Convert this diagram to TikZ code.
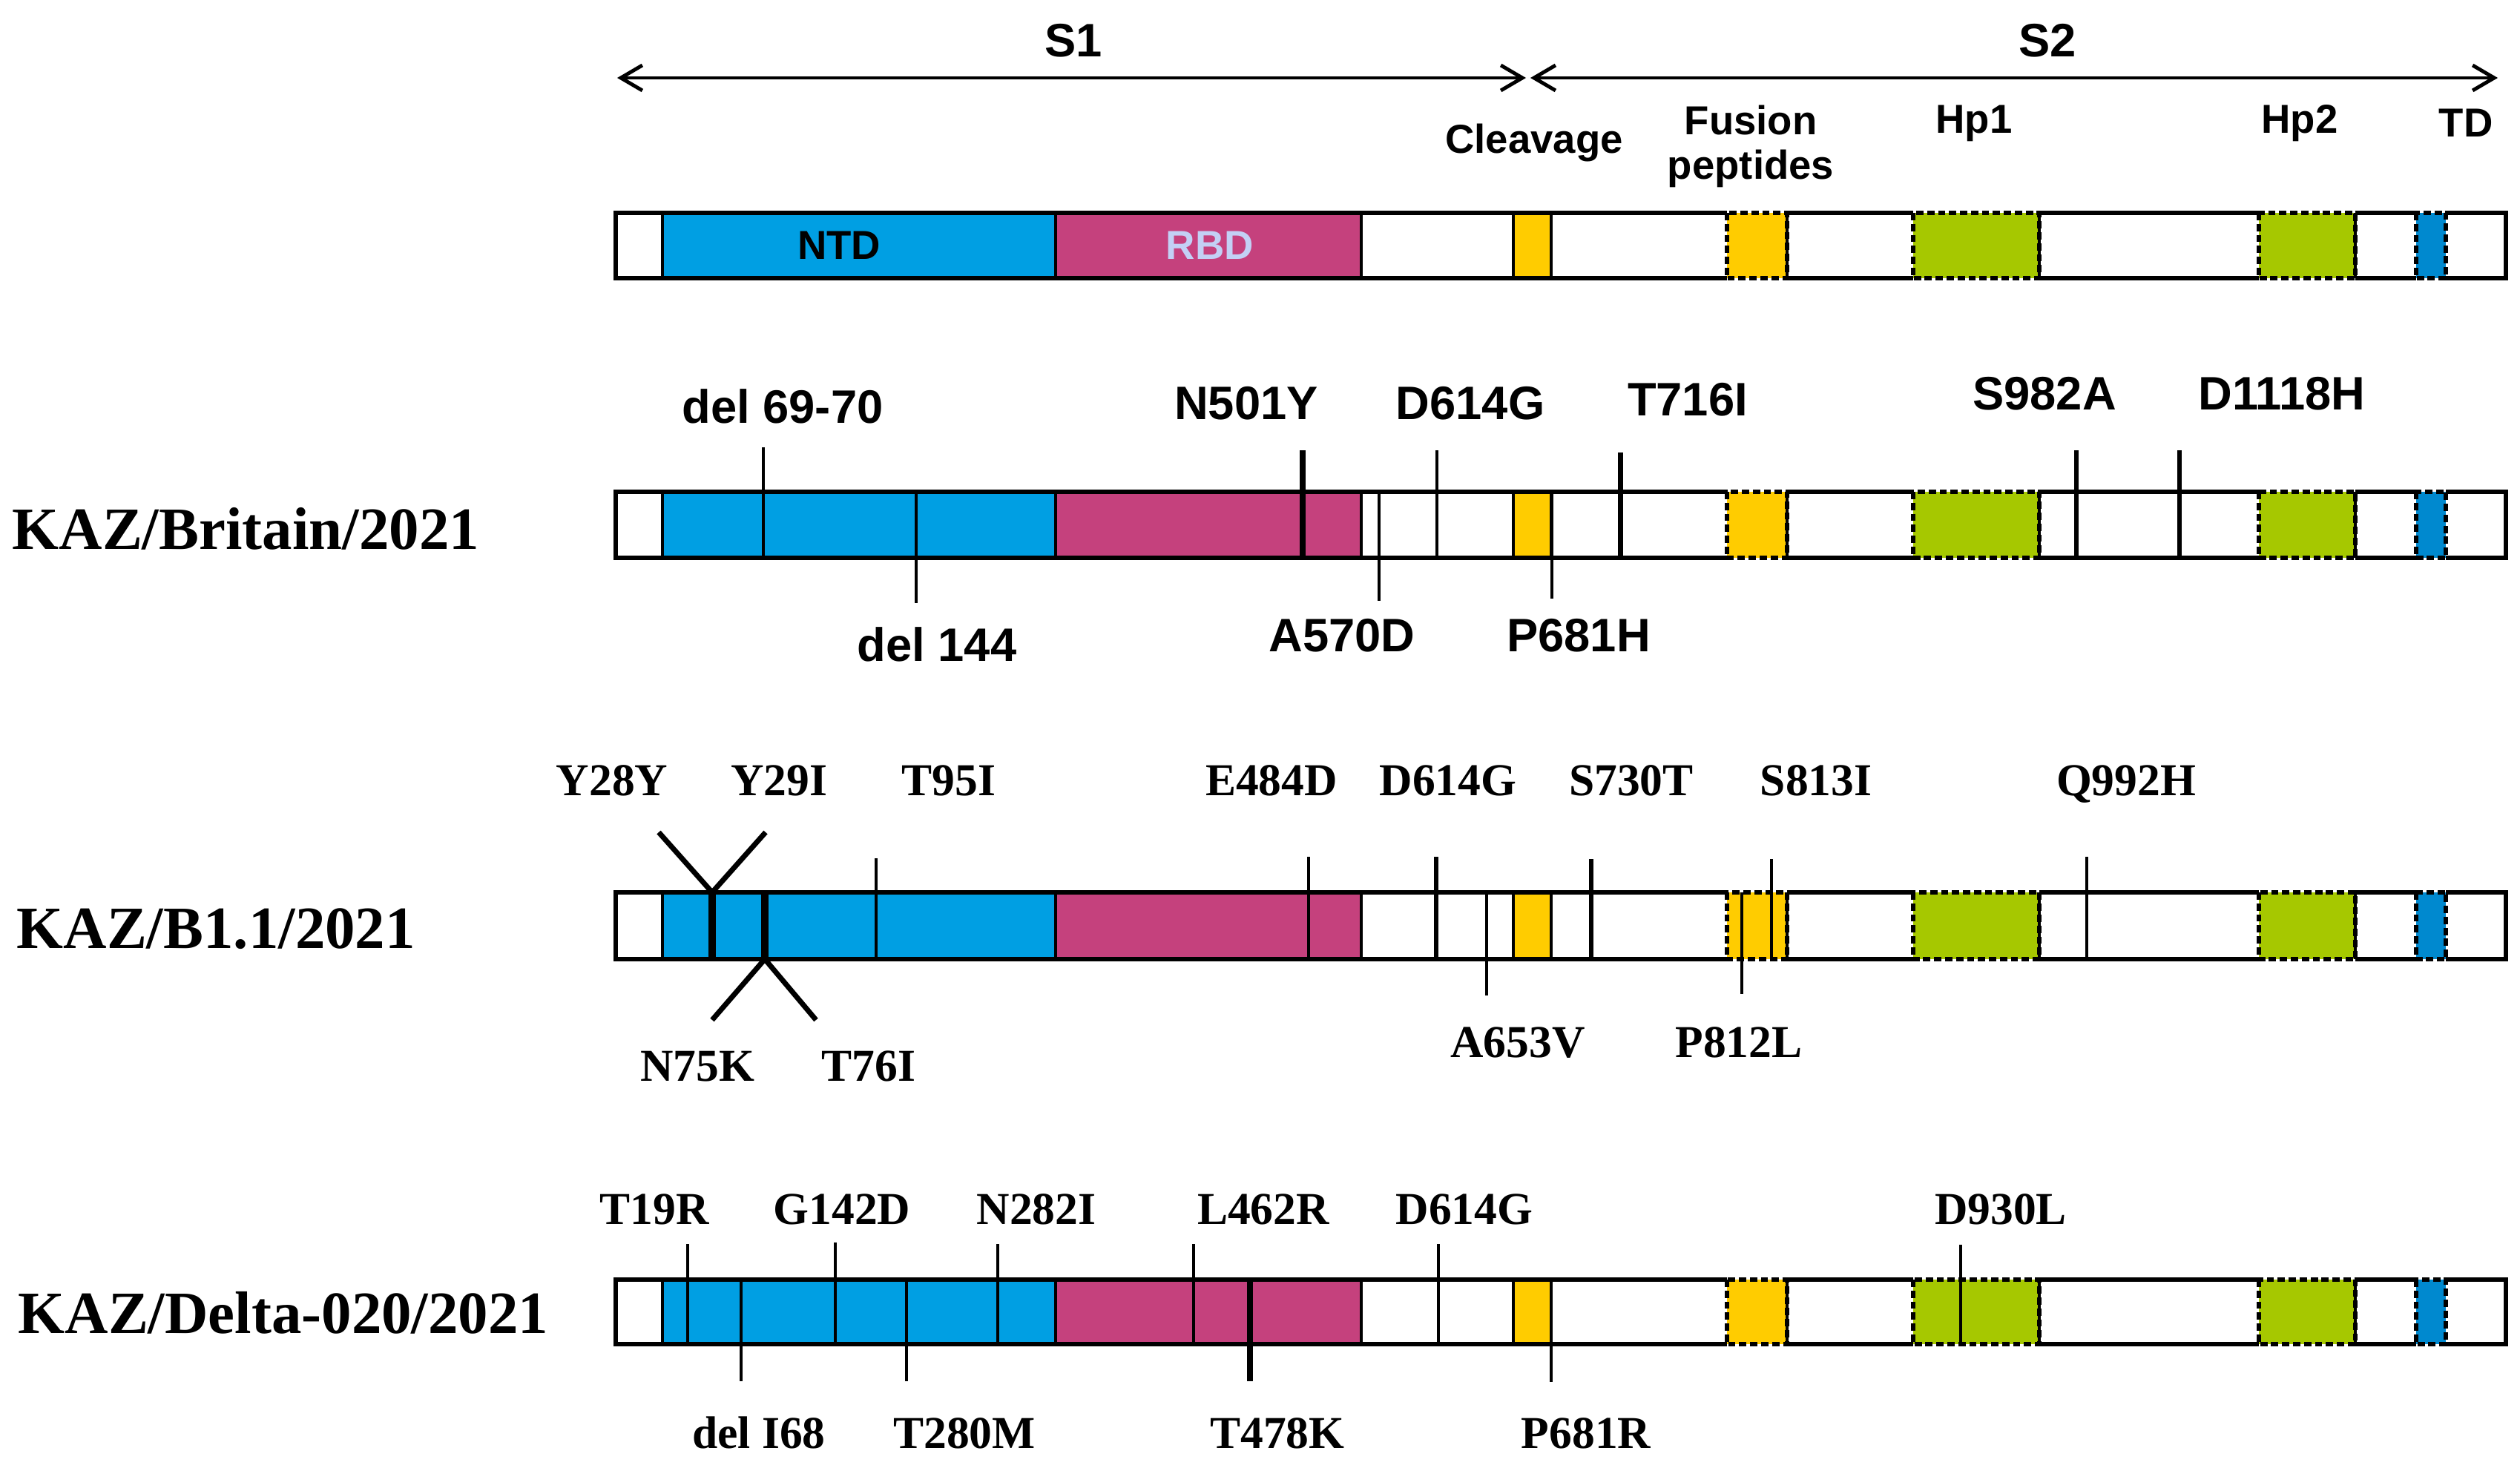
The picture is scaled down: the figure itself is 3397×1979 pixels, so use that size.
\documentclass[tikz,border=0pt]{standalone}
\usepackage{fontspec}
\setmainfont{Liberation Serif}
\newfontfamily\arialfont{Liberation Sans}
\usetikzlibrary{arrows.meta}

\definecolor{ntdblue}{RGB}{0,159,227}
\definecolor{rbdpink}{RGB}{197,65,125}
\definecolor{cleavyellow}{RGB}{255,204,0}
\definecolor{hpgreen}{RGB}{166,200,0}
\definecolor{tdblue}{RGB}{0,137,207}
\definecolor{rbdtext}{RGB}{195,208,245}

\begin{document}
\begin{tikzpicture}[x=0.01cm, y=-0.01cm,
    barline/.style={line width=1.8pt},
    divline/.style={line width=1.3pt},
    dashbox/.style={line width=1.5pt, dash pattern=on 2.8pt off 1.4pt},
    scalearr/.style={line width=1.4pt, >={Straight Barb[length=2.9mm,width=3.4mm]}, <->},
    sanslab/.style={font=\arialfont\bfseries\fontsize{18}{20}\selectfont, anchor=base, inner sep=0pt},
    domlab/.style={font=\arialfont\bfseries\fontsize{15.5}{17}\selectfont, anchor=base, inner sep=0pt},
    serlab/.style={font=\bfseries\fontsize{17.5}{20}\selectfont, anchor=base, inner sep=0pt},
    strainlab/.style={font=\bfseries\fontsize{23}{26}\selectfont, anchor=base west, inner sep=0pt}]
    \useasboundingbox (0,0) rectangle (3397,1979);

    % Barre della proteina spike
    \foreach \yt/\yb in {287/375, 663/752, 1203/1293, 1725/1812} {
        \fill[white] (830,\yt) rectangle (3378,\yb);
        \fill[ntdblue] (893,\yt) rectangle (1423,\yb);
        \fill[rbdpink] (1423,\yt) rectangle (1835,\yb);
        \fill[cleavyellow] (2040,\yt) rectangle (2091,\yb);
        \draw[barline] (830,\yt) rectangle (3378,\yb);
        \foreach \xd in {893,1423,1835,2040,2091}
            \draw[divline] (\xd,\yt) -- (\xd,\yb);
        % domini tratteggiati
        \foreach \xa/\xb/\col in {2328/2409/cleavyellow, 2579/2749/hpgreen, 3045/3175/hpgreen, 3257/3297/tdblue} {
            \fill[white] (\xa,\yt-5) rectangle (\xb,\yb+5);
            \draw[dashbox, fill=\col] (\xa,\yt) rectangle (\xb,\yb);
        }
        \foreach \xd in {2409,2749,3175}
            \draw[divline] (\xd,\yt) -- (\xd,\yb);
    }

    % Frecce S1 e S2
    \coordinate (s1l) at (832,105);
    \coordinate (s1r) at (2057,105);
    \coordinate (s2l) at (2063,105);
    \coordinate (s2r) at (3367,105);
    \draw[scalearr] (s1l) -- (s1r);
    \draw[scalearr] (s2l) -- (s2r);
    \node[sanslab] (s1) at (1447,77) {S1};
    \node[sanslab] (s2) at (2760,77) {S2};

    % Nomi dei domini
    \node[domlab] (cleav) at (2068,207) {Cleavage};
    \node[domlab] (fus) at (2360,182) {Fusion};
    \node[domlab] (pept) at (2360,242) {peptides};
    \node[domlab] (hp1) at (2661,180) {Hp1};
    \node[domlab] (hp2) at (3100,180) {Hp2};
    \node[domlab] (td) at (3324,185) {TD};
    \node[domlab] (ntd) at (1131,350) {NTD};
    \node[domlab, text=rbdtext] (rbd) at (1631,350) {RBD};

    % Nomi dei ceppi
    \node[strainlab] (britain) at (16,740) {KAZ/Britain/2021};
    \node[strainlab] (bone) at (22,1278) {KAZ/B1.1/2021};
    \node[strainlab] (delta) at (24,1797) {KAZ/Delta-020/2021};

    % Mutazioni KAZ/Britain/2021
    \foreach \x/\ya/\yb/\lx/\ly/\lw/\nm/\txt in {
        1029/603/752/1055/570/1.2/uk1/{del 69-70},
        1756/607/752/1680/565/2.2/uk2/N501Y,
        1937/607/752/1982/565/1.4/uk3/D614G,
        2184/610/752/2275/560/2.0/uk4/T716I,
        2799/607/752/2756/552/1.8/uk5/S982A,
        2938/607/752/3076/552/1.8/uk6/D1118H,
        1235/663/813/1263/891/1.2/uk7/{del 144},
        1859/663/810/1809/878/1.4/uk8/A570D,
        2092/663/807/2128/878/1.4/uk9/P681H} {
        \draw[line width=\lw pt] (\x,\ya) -- (\x,\yb);
        \node[sanslab] (\nm) at (\lx,\ly) {\txt};
    }

    % Mutazioni KAZ/B1.1/2021
    \foreach \x/\ya/\yb/\lx/\ly/\lw/\nm/\txt in {
        1181/1157/1293/1279/1072/1.2/bo3/T95I,
        1764/1155/1293/1714/1072/1.2/bo4/E484D,
        1936/1155/1293/1952/1072/1.6/bo5/D614G,
        2145/1158/1293/2199/1072/1.6/bo6/S730T,
        2388/1158/1293/2448/1072/1.1/bo7/S813I,
        2813/1155/1293/2866/1072/1.1/bo8/Q992H,
        2004/1203/1342/2046/1425/1.1/bo9/A653V,
        2348/1203/1340/2344/1425/1.1/bo10/P812L} {
        \draw[line width=\lw pt] (\x,\ya) -- (\x,\yb);
        \node[serlab] (\nm) at (\lx,\ly) {\txt};
    }
    \node[serlab] (bo1) at (825,1072) {Y28Y};
    \node[serlab] (bo2) at (1050,1072) {Y29I};
    \node[serlab] (bo11) at (940,1457) {N75K};
    \node[serlab] (bo12) at (1171,1457) {T76I};
    \draw[line width=2pt] (888,1122) -- (960,1203) -- (1032,1122);
    \draw[line width=3pt] (960,1203) -- (960,1293);
    \draw[line width=3pt] (1031,1203) -- (1031,1293);
    \draw[line width=2pt] (960,1375) -- (1031,1293) -- (1100,1375);

    % Mutazioni KAZ/Delta-020/2021
    \foreach \x/\ya/\yb/\lx/\ly/\lw/\nm/\txt in {
        927/1677/1812/882/1650/1.1/de1/T19R,
        1126/1675/1812/1135/1650/1.1/de2/G142D,
        1345/1677/1812/1397/1650/1.1/de3/N282I,
        1609/1677/1812/1703/1650/1.1/de4/L462R,
        1939/1677/1812/1974/1650/1.1/de5/D614G,
        2643/1678/1812/2697/1650/1.1/de6/D930L,
        999/1725/1862/1023/1952/1.1/de7/{del I68},
        1222/1725/1862/1300/1952/1.1/de8/T280M,
        1685/1725/1862/1722/1952/2.2/de9/T478K,
        2091/1725/1863/2138/1952/1.1/de10/P681R} {
        \draw[line width=\lw pt] (\x,\ya) -- (\x,\yb);
        \node[serlab] (\nm) at (\lx,\ly) {\txt};
    }
\end{tikzpicture}
\end{document}
